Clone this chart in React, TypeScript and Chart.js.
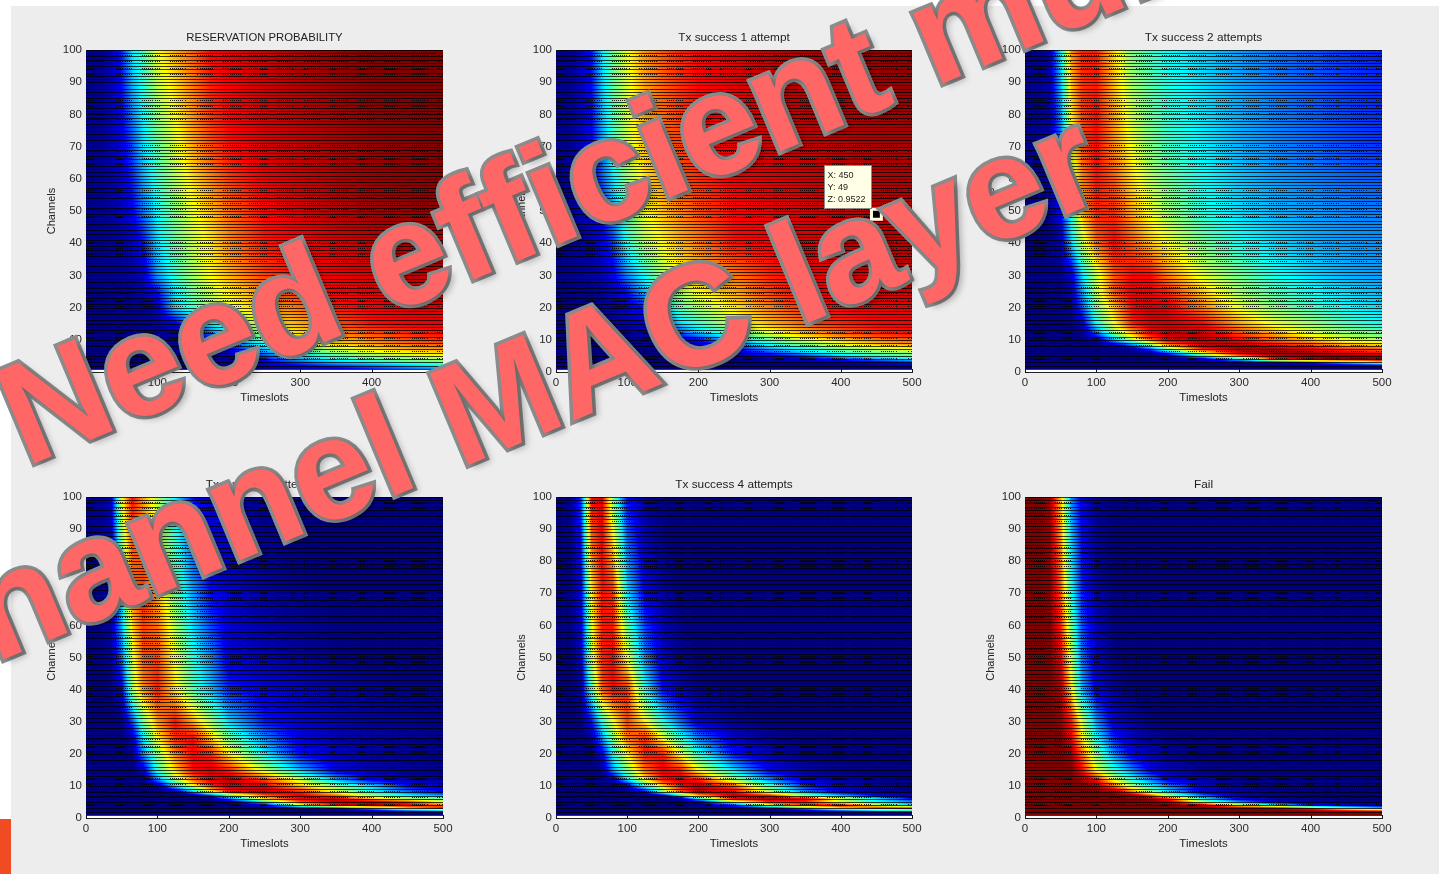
import React, { useEffect, useRef } from "react";
import { Chart, registerables } from "chart.js";
Chart.register(...registerables);

const timeslots = [0, 20, 35, 50, 65, 80, 100, 125, 150, 175, 200, 250, 300, 350, 400, 450, 500];
const channels = [1, 2, 3, 4, 5, 6, 7, 8, 10, 12, 15, 20, 25, 30, 40, 50, 70, 100];
const xTicks = [0, 100, 200, 300, 400, 500];
const yTicks = [0, 10, 20, 30, 40, 50, 60, 70, 80, 90, 100];
const colourFloor = 3;

// each row is one channel, each column one timeslot; values are percent of the colour range
const reservation = [
  [3,3,3,3,3,3,3,3,3,3,3,5,8,12,18,24,30],
  [3,3,3,3,3,3,3,3,3,3,4,8,14,21,27,34,40],
  [3,3,3,3,3,3,3,3,3,4,5,12,24,35,40,46,50],
  [3,3,3,3,3,3,3,3,4,5,7,17,33,40,47,52,56],
  [3,3,3,3,3,3,3,4,4,5,8,22,37,46,53,58,62],
  [3,3,3,3,3,3,3,4,5,6,9,28,42,53,60,64,68],
  [3,3,3,3,3,3,4,4,5,6,12,34,48,58,65,70,73],
  [3,3,3,3,3,3,4,5,6,8,18,38,54,64,70,75,78],
  [3,3,3,3,3,4,4,5,8,15,31,48,62,70,76,81,84],
  [3,3,3,3,4,4,5,6,12,25,38,56,67,75,80,84,87],
  [3,3,4,4,4,5,6,12,30,40,48,62,72,80,87,89,90],
  [3,3,4,4,4,5,9,36,46,54,61,71,78,86,89,91,91],
  [3,4,4,4,5,8,16,38,50,58,65,76,85,89,91,92,93],
  [3,4,4,5,6,9,30,44,55,64,71,82,88,90,92,94,95],
  [4,4,5,6,9,16,36,48,58,66,75,86,89,92,94,96,96],
  [4,5,6,9,14,26,40,52,62,70,78,88,92,95,97,98,99],
  [4,5,8,12,22,36,48,60,72,81,87,92,94,96,98,99,100],
  [4,5,9,18,38,46,63,71,79,88,90,93,96,98,100,100,100],
];
const success1 = [
  [2,2,2,2,2,2,2,2,2,2,2,2,2,2,2,2,2],
  [2,2,2,2,2,2,2,2,2,2,2,3,3,3,3,4,6],
  [3,3,3,3,3,3,3,3,3,3,3,3,4,5,7,10,18],
  [3,3,3,3,3,3,3,3,3,3,3,4,7,12,19,30,40],
  [3,3,3,3,3,3,3,3,3,3,4,6,12,20,36,44,48],
  [3,3,3,3,3,3,3,3,3,4,5,10,20,35,44,50,55],
  [3,3,3,3,3,3,3,3,4,5,6,14,30,40,50,57,62],
  [3,3,3,3,3,3,3,4,4,6,8,20,37,47,57,65,70],
  [3,3,3,3,3,4,4,5,6,10,15,36,48,61,69,76,80],
  [3,3,3,3,4,4,5,7,11,22,33,48,60,71,79,84,87],
  [3,3,4,4,4,5,7,10,20,36,44,59,71,79,85,88,89],
  [3,3,4,4,5,7,10,18,38,47,55,66,76,85,88,90,90],
  [3,4,4,5,6,9,16,33,45,56,64,72,82,89,91,92,92],
  [3,4,5,6,8,13,28,41,55,64,69,76,85,89,91,93,94],
  [4,5,6,8,12,20,42,56,64,71,76,87,89,91,93,94,95],
  [4,5,8,10,17,30,48,63,70,76,81,88,90,92,94,95,96],
  [4,5,9,14,30,44,58,70,77,82,87,90,93,94,95,96,96],
  [4,5,9,17,38,50,62,74,80,85,88,91,94,96,97,98,99],
];
const success2 = [
  [2,2,2,2,2,2,2,2,2,2,2,2,2,2,2,2,2],
  [2,2,2,2,2,2,2,2,2,2,2,2,2,3,4,6,9],
  [3,3,3,3,3,3,3,3,3,3,3,3,5,10,18,40,62],
  [3,3,3,3,3,3,3,3,3,3,4,10,40,85,97,100,100],
  [3,3,3,3,3,3,3,3,3,4,7,42,78,94,98,98,96],
  [3,3,3,3,3,3,3,3,4,5,25,65,92,98,96,90,86],
  [3,3,3,3,3,3,3,4,5,20,50,83,96,97,90,84,80],
  [3,3,3,3,3,3,3,6,18,42,68,93,97,90,84,75,72],
  [3,3,3,3,3,3,6,32,57,78,91,95,88,78,70,60,56],
  [3,3,3,3,3,4,24,52,70,88,94,93,82,72,60,54,50],
  [3,3,3,3,4,10,40,63,85,92,93,88,73,61,54,46,40],
  [3,3,3,4,5,22,50,70,88,92,90,76,61,52,45,39,36],
  [3,3,4,4,8,30,58,80,90,89,85,68,54,46,40,36,33],
  [3,3,4,4,10,36,58,80,88,88,76,60,50,41,36,32,30],
  [3,3,4,8,35,57,78,88,80,70,63,50,41,36,32,30,29],
  [3,4,5,15,44,70,85,84,72,62,54,42,36,32,30,28,27],
  [4,5,6,24,61,80,88,75,62,52,45,38,32,28,25,22,20],
  [4,5,8,38,74,85,85,67,51,45,40,35,30,26,23,20,18],
];
const success3 = [
  [2,2,2,2,2,2,2,2,2,2,2,2,2,2,2,2,2],
  [2,2,2,2,2,2,2,2,2,2,2,2,2,3,5,8,14],
  [3,3,3,3,3,3,3,3,3,3,3,3,5,10,32,66,88],
  [3,3,3,3,3,3,3,3,3,3,4,12,62,88,97,90,76],
  [3,3,3,3,3,3,3,3,3,3,4,38,80,94,95,84,62],
  [3,3,3,3,3,3,3,3,3,4,26,68,90,93,70,56,50],
  [3,3,3,3,3,3,3,3,4,18,42,78,90,78,57,40,30],
  [3,3,3,3,3,3,3,5,30,60,85,95,86,62,40,27,14],
  [3,3,3,3,3,3,5,36,62,84,93,90,70,52,36,16,10],
  [3,3,3,3,3,3,28,55,78,90,94,82,58,32,12,7,5],
  [3,3,3,3,3,10,44,68,88,92,85,58,33,12,7,5,4],
  [3,3,3,3,4,28,52,76,88,84,65,38,15,9,6,5,4],
  [3,3,3,3,8,38,64,84,88,68,50,28,12,8,6,5,4],
  [3,3,3,4,22,50,73,87,72,55,36,17,11,8,6,5,4],
  [3,3,4,12,55,74,86,66,47,33,18,12,9,7,5,4,4],
  [3,4,6,25,60,80,82,62,42,28,12,8,6,4,3,3,3],
  [3,4,6,40,75,84,72,50,30,15,10,6,4,3,3,3,3],
  [4,5,9,62,87,73,56,38,16,11,8,4,3,2,2,2,2],
];
const success4 = [
  [2,2,2,2,2,2,2,2,2,2,2,2,2,2,2,2,2],
  [2,2,2,2,2,2,2,2,2,2,2,2,2,3,8,14,20],
  [3,3,3,3,3,3,3,3,3,3,3,3,8,30,63,88,93],
  [3,3,3,3,3,3,3,3,3,3,4,20,65,85,90,58,33],
  [3,3,3,3,3,3,3,3,3,3,5,52,84,85,58,40,30],
  [3,3,3,3,3,3,3,3,3,6,40,88,97,90,60,38,15],
  [3,3,3,3,3,3,3,3,8,38,70,94,86,55,33,14,8],
  [3,3,3,3,3,3,3,12,48,78,94,90,56,30,12,6,4],
  [3,3,3,3,3,3,10,42,68,88,95,80,47,18,9,5,3],
  [3,3,3,3,3,8,37,65,87,92,85,55,28,10,6,4,3],
  [3,3,3,3,5,30,52,78,90,85,63,36,13,6,4,3,3],
  [3,3,3,3,12,40,65,86,85,62,43,16,7,4,3,2,2],
  [3,3,3,6,30,52,77,84,62,43,27,10,5,3,2,2,2],
  [3,3,4,16,42,62,82,65,42,25,11,5,3,2,2,2,2],
  [3,3,6,45,80,88,84,42,15,8,4,3,2,2,2,2,2],
  [3,3,10,58,85,88,62,28,10,5,3,2,2,2,2,2,2],
  [3,4,12,65,87,84,37,13,6,3,2,2,2,2,2,2,2],
  [3,5,20,88,90,52,15,6,3,2,1,1,1,1,1,1,1],
];
const failure = [
  [100,100,100,100,100,100,100,100,100,100,100,100,100,100,100,100,100],
  [100,100,100,100,100,100,100,100,100,100,100,100,100,100,100,99,97],
  [100,100,100,100,100,100,100,100,100,100,100,100,100,98,85,56,37],
  [100,100,100,100,100,100,100,100,100,100,100,94,60,40,18,10,7],
  [100,100,100,100,100,100,100,100,100,100,96,58,30,10,6,4,3],
  [100,100,100,100,100,100,100,100,100,98,85,38,13,6,4,3,2],
  [100,100,100,100,100,100,100,100,98,83,58,25,8,5,3,2,2],
  [100,100,100,100,100,100,100,98,80,55,37,11,6,4,3,2,2],
  [100,100,100,100,100,100,97,78,55,40,28,10,5,3,2,2,2],
  [100,100,100,100,100,97,87,60,42,28,12,6,3,2,2,2,2],
  [100,100,100,100,100,88,62,43,28,13,8,4,2,2,2,2,2],
  [100,100,100,100,97,78,52,28,12,8,5,3,2,2,2,2,2],
  [100,100,100,100,90,65,40,18,9,6,4,2,2,2,2,2,2],
  [100,100,100,98,86,60,30,11,7,4,3,2,2,2,2,2,2],
  [100,100,100,96,66,32,12,6,3,2,2,2,2,2,2,2,2],
  [100,100,100,90,58,26,10,4,3,2,2,2,2,2,2,2,2],
  [100,100,99,80,42,18,7,3,2,2,2,2,2,2,2,2,2],
  [100,100,97,70,28,12,5,3,2,2,2,2,2,2,2,2,2],
];

const titles = ["RESERVATION PROBABILITY", "Tx success 1 attempt", "Tx success 2 attempts", "Tx success 3 attempts", "Tx success 4 attempts", "Fail"];
const grids = [reservation, success1, success2, success3, success4, failure];
const xTitle = "Timeslots";
const yTitle = "Channels";
const tipX = 450;
const tipY = 49;
const tipZ = 0.9522;
const headlineOne = "Need efficient multi-";
const headlineTwo = "channel MAC layer";

const frames = [
  { left: 86, top: 50, width: 357, height: 322 },
  { left: 556, top: 50, width: 356, height: 322 },
  { left: 1025, top: 50, width: 357, height: 322 },
  { left: 86, top: 497, width: 357, height: 321 },
  { left: 556, top: 497, width: 356, height: 321 },
  { left: 1025, top: 497, width: 357, height: 321 },
];
const FONT = '"Liberation Sans", Arial, sans-serif';

function jet(v: number): [number, number, number] {
  const t = Math.max(0, Math.min(1, (v - colourFloor) / (100 - colourFloor)));
  const c = (a: number) => Math.max(0, Math.min(1, 1.5 - Math.abs(4 * t - a))) * 255;
  return [c(3), c(2), c(1)];
}
function locate(list: number[], value: number) {
  let i = 0;
  while (i < list.length - 2 && value > list[i + 1]) i++;
  const f = Math.max(0, Math.min(1, (value - list[i]) / (list[i + 1] - list[i])));
  return [i, f];
}

function heatPlugin(grid: number[][]) {
  return {
    id: "heat",
    afterLayout(chart: any) {
      // centre the title over the plot rather than over the padded box
      if (chart.titleBlock) { chart.titleBlock.left = 0; chart.titleBlock.right = chart.width; }
    },
    beforeDatasetsDraw(chart: any) {
      const { ctx, chartArea: a, scales } = chart;
      const x = scales.x, y = scales.y;
      const w = Math.round(a.right - a.left), h = Math.round(a.bottom - a.top);
      const off = document.createElement("canvas");
      off.width = w; off.height = h;
      const oc = off.getContext("2d")!;
      const img = oc.createImageData(w, h);
      for (let py = 0; py < h; py++) {
        const ch = y.getValueForPixel(a.top + py + 0.5);
        const [r, fr] = locate(channels, ch);
        for (let px = 0; px < w; px++) {
          const o = (py * w + px) * 4;
          if (ch < 1) { img.data[o] = img.data[o + 1] = img.data[o + 2] = img.data[o + 3] = 255; continue; }
          const [c, fc] = locate(timeslots, x.getValueForPixel(a.left + px + 0.5));
          const lo = grid[r][c] * (1 - fc) + grid[r][c + 1] * fc;
          const hi = grid[r + 1][c] * (1 - fc) + grid[r + 1][c + 1] * fc;
          const [R, G, B] = jet(lo * (1 - fr) + hi * fr);
          img.data[o] = R; img.data[o + 1] = G; img.data[o + 2] = B; img.data[o + 3] = 255;
        }
      }
      oc.putImageData(img, 0, 0);
      ctx.save();
      ctx.drawImage(off, a.left, a.top);
      // surface mesh: one edge per channel, dotted where the timeslot edges alias
      ctx.fillStyle = "rgba(0,0,0,0.78)";
      for (let ch = 1; ch <= 100; ch++) {
        const py = Math.round(y.getPixelForValue(ch));
        ctx.fillRect(a.left, py, w, 1);
      }
      ctx.fillStyle = "rgba(0,0,0,0.85)";
      for (let ch = 2; ch < 100; ch += 2) {
        const py = Math.round(y.getPixelForValue(ch + 0.5));
        const relY = (py - a.top + 2) % 47;
        if (relY > 28) continue;
        for (let t = 0; t <= 500; t += 3) {
          const ppx = Math.round(x.getPixelForValue(t));
          const relX = (ppx - a.left - 2) % 26.8;
          if (relX < 18) ctx.fillRect(ppx, py, 1, 1);
        }
      }
      ctx.restore();
    },
    afterDatasetsDraw(chart: any) {
      const { ctx, chartArea: a, scales } = chart;
      ctx.save();
      ctx.fillStyle = "#111";
      scales.x.ticks.forEach((t: any) => ctx.fillRect(Math.round(scales.x.getPixelForValue(t.value)), a.bottom - 3, 1, 3));
      scales.y.ticks.forEach((t: any) => ctx.fillRect(a.left, Math.round(scales.y.getPixelForValue(t.value)), 3, 1));
      ctx.restore();
    },
  };
}

const tipPlugin = {
  id: "tip",
  afterDatasetsDraw(chart: any) {
    const { ctx, scales } = chart;
    const mx = scales.x.getPixelForValue(tipX), my = scales.y.getPixelForValue(tipY);
    ctx.save();
    ctx.fillStyle = "#ffffe6";
    ctx.strokeStyle = "#8a8a8a";
    ctx.lineWidth = 1;
    const bx = Math.round(mx - 52) + 0.5, by = Math.round(my - 49) + 0.5;
    ctx.fillRect(bx, by, 47, 43);
    ctx.strokeRect(bx, by, 47, 43);
    ctx.fillStyle = "#222";
    ctx.font = `9px ${FONT}`;
    ctx.textBaseline = "middle";
    ctx.textAlign = "left";
    ctx.fillText(`X: ${tipX}`, bx + 3, by + 10);
    ctx.fillText(`Y: ${tipY}`, bx + 3, by + 22);
    ctx.fillText(`Z: ${tipZ}`, bx + 3, by + 34);
    ctx.restore();
  },
};

function Panel({ index }: { index: number }) {
  const ref = useRef<HTMLCanvasElement>(null);
  const f = frames[index];
  useEffect(() => {
    const grid = grids[index];
    const nodes: { x: number; y: number; v: number }[] = [];
    channels.forEach((c, r) => timeslots.forEach((t, k) => nodes.push({ x: t, y: c, v: grid[r][k] })));
    const datasets: any[] = [{ label: titles[index], data: nodes, pointRadius: 0, showLine: false }];
    if (index === 1) {
      datasets.push({
        label: "data tip",
        data: [{ x: tipX, y: tipY }],
        pointStyle: "rect",
        pointRadius: 7,
        backgroundColor: "#000",
        borderColor: "#ffffe6",
        borderWidth: 3,
        showLine: false,
      });
    }
    const tickStyle = { color: "#2a2a2a", font: { family: FONT, size: 11.5 } };
    const chart = new Chart(ref.current!, {
      type: "scatter",
      data: { datasets },
      plugins: index === 1 ? [heatPlugin(grid), tipPlugin] : [heatPlugin(grid)],
      options: {
        animation: false,
        responsive: false,
        events: [],
        layout: { padding: { left: 0, right: 50, top: 0, bottom: 0 } },
        plugins: {
          legend: { display: false },
          tooltip: { enabled: false },
          title: {
            display: true,
            text: titles[index],
            color: "#222",
            font: { family: FONT, size: index === 0 ? 11.3 : 11.8, weight: "normal", lineHeight: "13px" },
            padding: { top: 11, bottom: 6 },
          },
        },
        scales: {
          x: {
            type: "linear",
            min: 0,
            max: 500,
            afterFit: (s: any) => { s.height = 40; },
            afterBuildTicks: (s: any) => { s.ticks = xTicks.map((value) => ({ value })); },
            ticks: { ...tickStyle, maxRotation: 0, padding: 4, autoSkip: false },
            grid: { display: false, drawTicks: false },
            border: { display: true, color: "#222", width: 1 },
            title: { display: true, text: xTitle, color: "#222", font: { family: FONT, size: 11.4 }, padding: { top: 0, bottom: 7 } },
          },
          y: {
            type: "linear",
            min: 0,
            max: 100,
            afterFit: (s: any) => { s.width = 50; },
            afterBuildTicks: (s: any) => { s.ticks = yTicks.map((value) => ({ value })); },
            ticks: { ...tickStyle, padding: 4, autoSkip: false },
            grid: { display: false, drawTicks: false },
            border: { display: true, color: "#222", width: 1 },
            title: { display: true, text: yTitle, color: "#222", font: { family: FONT, size: 11 }, padding: { top: 9, bottom: 0 } },
          },
        },
      },
    } as any);
    return () => chart.destroy();
  }, [index]);
  return (
    <canvas
      ref={ref}
      width={f.width + 100}
      height={f.height + 70}
      style={{ position: "absolute", left: f.left - 50, top: f.top - 30, width: f.width + 100, height: f.height + 70 }}
    />
  );
}

const headlineStyle: React.CSSProperties = {
  position: "absolute",
  fontFamily: FONT,
  fontWeight: "bold",
  fontSize: 144,
  lineHeight: 1,
  whiteSpace: "nowrap",
  color: "#ff6666",
  WebkitTextStroke: "7px #8c8c8c",
  paintOrder: "stroke fill",
  textShadow: "4px 5px 6px rgba(0,0,0,0.25)",
  transformOrigin: "0 0.8465em",
  transform: "rotate(-22.7deg)",
};

export default function App() {
  return (
    <div style={{ position: "fixed", inset: 0, overflow: "hidden", background: "#fff" }}>
      <div style={{ position: "absolute", left: 11, top: 6, right: 0, bottom: 0, background: "#ededed" }} />
      <div style={{ position: "absolute", left: 0, top: 819, width: 11, height: 55, background: "#f04b23" }} />
      {frames.map((_, i) => <Panel key={i} index={i} />)}
      <div style={{ ...headlineStyle, left: 26, top: 468 - 122 }}>{headlineOne}</div>
      <div style={{ ...headlineStyle, left: -79, top: 695 - 122 }}>{headlineTwo}</div>
    </div>
  );
}
